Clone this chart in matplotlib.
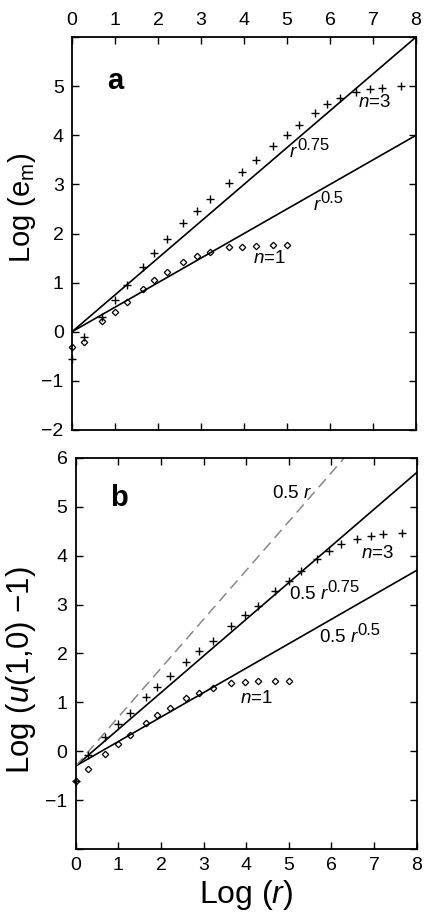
import matplotlib
matplotlib.use("Agg")
import matplotlib.pyplot as plt
import numpy as np

plt.rcParams['font.family'] = ['Liberation Sans', 'DejaVu Sans']
plt.rcParams['mathtext.fontset'] = 'custom'
plt.rcParams['mathtext.rm'] = 'Liberation Sans'
plt.rcParams['mathtext.it'] = 'Liberation Sans:italic'

# ---- data ----
log_r = [0, 0.28, 0.69, 0.99, 1.27, 1.64, 1.91, 2.2, 2.58, 2.9, 3.22, 3.64,
         3.96, 4.27, 4.68, 5.0, 5.28, 5.66, 5.94, 6.23, 6.6, 6.92, 7.22, 7.66]

a_n3 = [-0.56, -0.10, 0.31, 0.64, 0.95, 1.32, 1.61, 1.88, 2.22, 2.46, 2.70, 3.02,
        3.26, 3.49, 3.79, 4.00, 4.21, 4.46, 4.63, 4.76, 4.88, 4.95, 4.97, 5.00]
a_n1 = [-0.32, -0.20, 0.21, 0.41, 0.61, 0.87, 1.05, 1.22, 1.42, 1.54, 1.63, 1.73,
        1.73, 1.74, 1.76, 1.76]

b_n3 = [-0.60, -0.07, 0.29, 0.56, 0.79, 1.10, 1.32, 1.54, 1.82, 2.04, 2.26, 2.57,
        2.79, 2.98, 3.27, 3.48, 3.69, 3.93, 4.09, 4.23, 4.34, 4.40, 4.44, 4.46]
b_n1 = [-0.60, -0.36, -0.05, 0.14, 0.34, 0.58, 0.74, 0.89, 1.08, 1.20, 1.29, 1.39,
        1.41, 1.43, 1.44, 1.44]

line_x = [0, 8]
a_exponents = [0.75, 0.5]
a_intercept = 0.0
b_exponents = [0.75, 0.5]
b_intercept = -0.301   # log10(0.5)
b_dashed_exponent = 1.0

xticks = [0, 1, 2, 3, 4, 5, 6, 7, 8]
yticks = [-2, -1, 0, 1, 2, 3, 4, 5, 6]
a_yticklabels = ['\u22122', '\u22121', '0', '1', '2', '3', '4', '5', '']
b_yticklabels = ['', '\u22121', '0', '1', '2', '3', '4', '5', '6']

fig = plt.figure(figsize=(4.26, 9.18), dpi=100)
ax_a = fig.add_axes([0.169, 0.5316, 0.8075, 0.428])
ax_b = fig.add_axes([0.178, 0.0752, 0.80, 0.426])

plus_kw = dict(linestyle='none', marker='+', markersize=6, markeredgewidth=1.0,
               color='black', clip_on=False, zorder=3)
dia_kw = dict(linestyle='none', marker='D', markersize=3.3, markeredgewidth=0.9,
              markerfacecolor='none', markeredgecolor='black', clip_on=False, zorder=3)

FS_T = 14
FS_ANN = 13.5

for ax in (ax_a, ax_b):
    ax.set_xlim(0, 8)
    ax.set_ylim(-2, 6)
    ax.set_xticks(xticks)
    ax.set_yticks(yticks)
    ax.tick_params(direction='in', length=5, width=1.0, top=True, right=True,
                   labelsize=FS_T, pad=6)
    for s in ax.spines.values():
        s.set_linewidth(1.3)


def power_label(ax, x, y, prefix, exponent):
    """Base text (e.g. '0.5 r') followed by a near full-size raised exponent."""
    t = ax.text(x, y, prefix, fontsize=FS_ANN, va='center')
    fig.canvas.draw()
    bb = t.get_window_extent()
    x_end = ax.transData.inverted().transform((bb.x1, bb.y0))[0]
    ax.annotate(exponent, xy=(x_end, y), xytext=(-0.8, 5), textcoords='offset points',
                fontsize=FS_ANN - 1.5, va='center')


# ---- panel a ----
xl = np.array(line_x, dtype=float)
for e in a_exponents:
    ax_a.plot(xl, a_intercept + e * xl, color='black', lw=1.2)
ax_a.plot(log_r[:len(a_n3)], a_n3, **plus_kw)
ax_a.plot(log_r[:len(a_n1)], a_n1, **dia_kw)
ax_a.tick_params(labelbottom=False, labeltop=True)
ax_a.set_yticklabels(a_yticklabels)
ax_a.set_ylabel(r'Log ($\mathrm{e}_{\mathrm{m}}$)', fontsize=21)
ax_a.yaxis.set_label_coords(-0.099, 0.565)
ax_a.text(0.82, 5.1, 'a', fontsize=21, fontweight='bold', va='center')
ax_a.text(6.65, 4.66, r'$\it{n}$=3', fontsize=FS_ANN, va='center')
power_label(ax_a, 5.05, 3.66, r'$\it{r}$', '0.75')
power_label(ax_a, 5.6, 2.58, r'$\it{r}$', '0.5')
ax_a.text(4.2, 1.5, r'$\it{n}$=1', fontsize=FS_ANN, va='center')

# ---- panel b ----
for e in b_exponents:
    ax_b.plot(xl, b_intercept + e * xl, color='black', lw=1.2)
ax_b.plot(xl, b_intercept + b_dashed_exponent * xl, color='#888888', lw=1.1,
          linestyle=(0, (7, 4)))
ax_b.plot(log_r[:len(b_n3)], b_n3, **plus_kw)
ax_b.plot(log_r[:len(b_n1)], b_n1, **dia_kw)
ax_b.set_yticklabels(b_yticklabels)
ax_b.set_ylabel(r'Log ($\it{u}$(1,0) $-$1)', fontsize=22.5)
ax_b.yaxis.set_label_coords(-0.111, 0.458)
ax_b.set_xlabel(r'Log ($\it{r}$)', fontsize=23, labelpad=3)
ax_b.text(0.8, 5.18, 'b', fontsize=21, fontweight='bold', va='center')
ax_b.text(4.6, 5.28, r'0.5 $\it{r}$', fontsize=FS_ANN, va='center')
ax_b.text(6.7, 4.05, r'$\it{n}$=3', fontsize=FS_ANN, va='center')
power_label(ax_b, 5.0, 3.2, r'0.5 $\it{r}$', '0.75')
power_label(ax_b, 5.7, 2.33, r'0.5 $\it{r}$', '0.5')
ax_b.text(3.85, 1.08, r'$\it{n}$=1', fontsize=FS_ANN, va='center')

fig.savefig('out.png', dpi=100, facecolor='white')
